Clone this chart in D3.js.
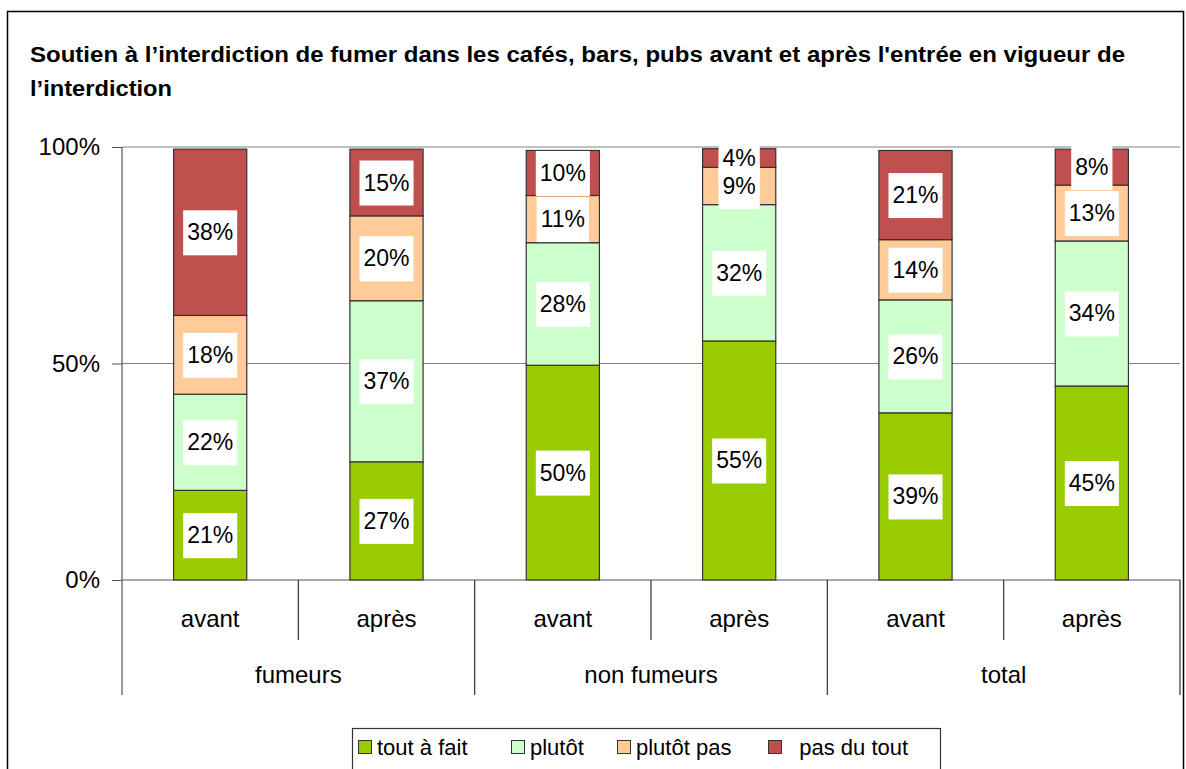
<html>
<head>
<meta charset="utf-8">
<script src="https://d3js.org/d3.v7.min.js"></script>
<style>
    body, html {
        margin: 0;
        padding: 0;
        background: white;
        font-family: "Liberation Sans", Arial, sans-serif;
    }
</style>
</head>
<body>
<div id="my_dataviz"></div>
<script>

// data
var groups = ["fumeurs", "non fumeurs", "total"];
var periods = ["avant", "après"];
var series = ["tout à fait", "plutôt", "plutôt pas", "pas du tout"];
var colors = ["#99CC00", "#CCFFCC", "#FFCC99", "#C0504D"];

var toutAFait  = [20.7, 27.3, 49.6, 55.2, 38.6, 44.8];
var plutot     = [22.2, 37.2, 28.3, 31.5, 26.1, 33.5];
var plutotPas  = [18.2, 19.6, 10.9, 8.6, 13.9, 12.9];
var pasDuTout  = [38.4, 15.4, 10.4, 4.3, 20.6, 8.3];

var yTicks = [0, 50, 100];

var title1 = "Soutien à l’interdiction de fumer dans les cafés, bars, pubs avant et après l'entrée en vigueur de";
var title2 = "l’interdiction";

var w = 1186, h = 769;
var margin = {top: 147, left: 122, right: 6, bottom: 189};
var width = w - margin.left - margin.right;
var height = h - margin.top - margin.bottom;

var svg = d3.select("#my_dataviz")
    .append("svg")
    .attr("width", w)
    .attr("height", h);

// outer frame
svg.append("rect")
    .attr("x", 7.5).attr("y", 11.5)
    .attr("width", 1176).attr("height", 800)
    .attr("fill", "white")
    .attr("stroke", "black")
    .attr("stroke-width", 1.5);

svg.append("text")
    .attr("x", 30).attr("y", 62)
    .attr("textLength", 1095)
    .attr("lengthAdjust", "spacingAndGlyphs")
    .style("font-weight", "bold")
    .style("font-size", "22px")
    .text(title1);
svg.append("text")
    .attr("x", 30).attr("y", 96)
    .attr("textLength", 142)
    .attr("lengthAdjust", "spacingAndGlyphs")
    .style("font-weight", "bold")
    .style("font-size", "22px")
    .text(title2);

var g = svg.append("g")
    .attr("transform", "translate(" + margin.left + "," + margin.top + ")");

// rows: one per bar
var keys = [];
groups.forEach(function(gr) {
    periods.forEach(function(p) { keys.push(gr + "|" + p); });
});
var rows = keys.map(function(k, i) {
    return {key: k, s0: toutAFait[i], s1: plutot[i], s2: plutotPas[i], s3: pasDuTout[i]};
});

var x = d3.scaleBand()
    .domain(keys)
    .range([0, width])
    .paddingInner(0.585)
    .paddingOuter(0.2925);

var y = d3.scaleLinear()
    .domain([0, 100])
    .range([height, 0]);

// gridlines
g.append("g")
    .selectAll("line")
    .data(yTicks.filter(function(t) { return t > 0; }))
    .enter()
    .append("line")
    .attr("x1", 0).attr("x2", width)
    .attr("y1", function(d) { return y(d); })
    .attr("y2", function(d) { return y(d); })
    .attr("stroke", "#808080")
    .attr("stroke-width", 1.2);

var stack = d3.stack().keys(["s0", "s1", "s2", "s3"]);
var stacked = stack(rows);

var layers = g.append("g")
    .selectAll("g")
    .data(stacked)
    .enter()
    .append("g")
    .attr("fill", function(d, i) { return colors[i]; });

layers.selectAll("rect")
    .data(function(d) { return d; })
    .enter()
    .append("rect")
    .attr("x", function(d) { return x(d.data.key); })
    .attr("y", function(d) { return y(d[1]); })
    .attr("width", x.bandwidth())
    .attr("height", function(d) { return y(d[0]) - y(d[1]); })
    .attr("stroke", "#333")
    .attr("stroke-width", 1.2);

// value labels in white boxes
var labels = [];
stacked.forEach(function(layer) {
    layer.forEach(function(d) {
        labels.push({
            cx: x(d.data.key) + x.bandwidth() / 2,
            cy: y((d[0] + d[1]) / 2),
            txt: Math.round(d[1] - d[0]) + "%"
        });
    });
});

// boxes first, then all texts on top so none get hidden
var boxes = g.append("g");
var texts = g.append("g")
    .selectAll("text")
    .data(labels)
    .enter()
    .append("text")
    .attr("x", function(d) { return d.cx; })
    .attr("y", function(d) { return d.cy + 8; })
    .attr("text-anchor", "middle")
    .style("font-size", "23px")
    .text(function(d) { return d.txt; });

texts.each(function(d) {
    var tw = this.getComputedTextLength();
    boxes.append("rect")
        .attr("fill", "white")
        .attr("x", d.cx - tw / 2 - 4)
        .attr("width", tw + 8)
        .attr("y", d.cy - 22)
        .attr("height", 45);
});

// y axis
var yAxis = g.append("g")
    .call(d3.axisLeft(y).tickValues(yTicks).tickFormat(function(d) { return d + "%"; }).tickSize(10).tickPadding(12));
yAxis.select(".domain").remove();
yAxis.selectAll("line").attr("stroke", "#555");
yAxis.selectAll("text")
    .style("font-size", "24px")
    .style("font-family", "Liberation Sans, Arial, sans-serif")
    .attr("fill", "black");

g.append("line")
    .attr("x1", 0).attr("x2", 0)
    .attr("y1", 0).attr("y2", height + 115)
    .attr("stroke", "#555").attr("stroke-width", 1.2);
g.append("line")
    .attr("x1", 0).attr("x2", width)
    .attr("y1", height).attr("y2", height)
    .attr("stroke", "#555").attr("stroke-width", 1.2);

// category axis, two levels
var step = x.step();
keys.forEach(function(k, i) {
    if (i == 0) return;
    var xx = i * step;
    g.append("line")
        .attr("x1", xx).attr("x2", xx)
        .attr("y1", height)
        .attr("y2", height + (i % 2 == 0 ? 115 : 60))
        .attr("stroke", "#333").attr("stroke-width", 1.2);
});
g.append("line")
    .attr("x1", width).attr("x2", width)
    .attr("y1", height).attr("y2", height + 115)
    .attr("stroke", "#333").attr("stroke-width", 1.2);

g.append("g")
    .selectAll("text")
    .data(keys)
    .enter()
    .append("text")
    .attr("x", function(d) { return x(d) + x.bandwidth() / 2; })
    .attr("y", height + 47)
    .attr("text-anchor", "middle")
    .style("font-size", "24px")
    .text(function(d) { return d.split("|")[1]; });

g.append("g")
    .selectAll("text")
    .data(groups)
    .enter()
    .append("text")
    .attr("x", function(d, i) { return (i * 2 + 1) * step; })
    .attr("y", height + 103)
    .attr("text-anchor", "middle")
    .style("font-size", "24px")
    .text(function(d) { return d; });

// legend
var leg = svg.append("g");
leg.append("rect")
    .attr("x", 352.5).attr("y", 728.5)
    .attr("width", 588).attr("height", 60)
    .attr("fill", "white")
    .attr("stroke", "#333").attr("stroke-width", 1.2);

var legX = [358, 511, 617, 768];
var legLabels = series.slice();
legLabels[3] = "\u00a0 " + series[3];
series.forEach(function(s, i) {
    leg.append("rect")
        .attr("x", legX[i] + 0.5).attr("y", 740.5)
        .attr("width", 13).attr("height", 13)
        .attr("fill", colors[i])
        .attr("stroke", "#333").attr("stroke-width", 1);
    leg.append("text")
        .attr("x", legX[i] + 19).attr("y", 755)
        .style("font-size", "22px")
        .text(legLabels[i]);
});

</script>
</body>
</html>
